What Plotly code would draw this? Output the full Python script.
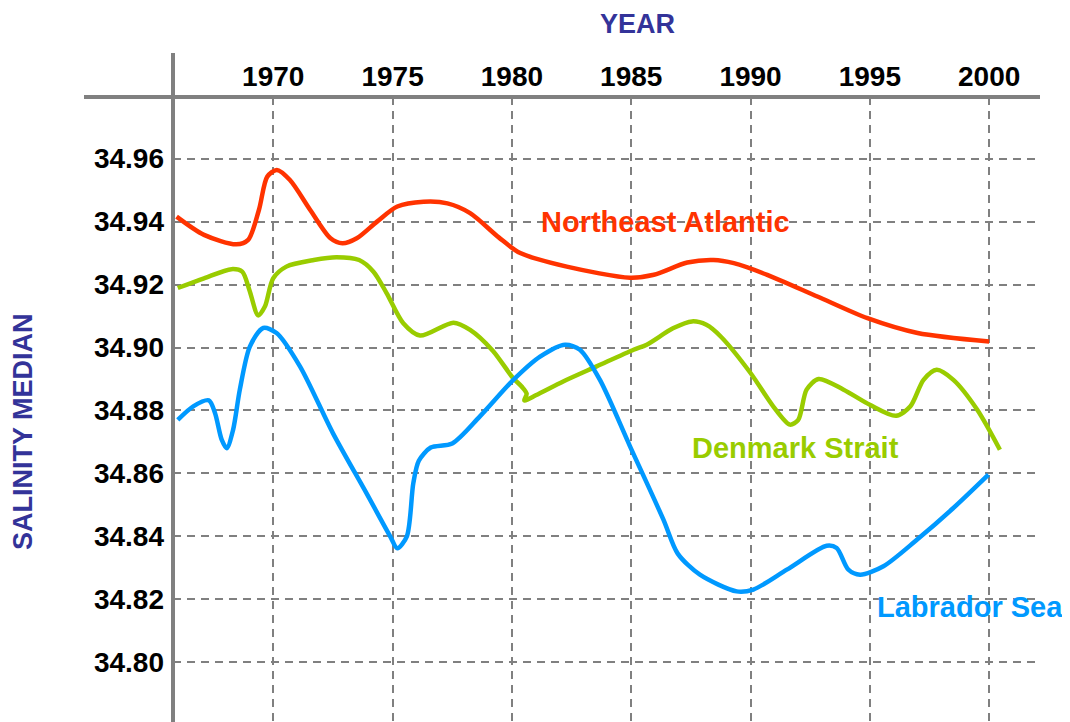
import plotly.graph_objects as go

# ---------------- data ----------------
tick_years = [1970, 1975, 1980, 1985, 1990, 1995, 2000]
tick_sal = [34.80, 34.82, 34.84, 34.86, 34.88, 34.90, 34.92, 34.94, 34.96]

ne_years = [1965.95, 1967.1, 1968.45, 1968.95, 1969.4, 1969.75, 1970.15, 1970.7, 1971.55,
            1972.4, 1972.9, 1973.5, 1974.35, 1975.2, 1976.3, 1977.3, 1978.25, 1979.45,
            1980.35, 1982.3, 1984.95, 1985.95, 1987.35, 1988.45, 1989.3, 1990.7, 1992.8,
            1994.9, 1997.0, 2000.0]
ne_sal = [34.9416, 34.9358, 34.9328, 34.9342, 34.9437, 34.9543, 34.9564, 34.9532, 34.9437,
          34.9347, 34.9331, 34.9347, 34.9400, 34.9448, 34.9463, 34.9458, 34.9427, 34.9350,
          34.9300, 34.9257, 34.9222, 34.9231, 34.9270, 34.9278, 34.9268, 34.9231, 34.9162,
          34.9093, 34.9046, 34.9019]

dk_years = [1966.0, 1967.1, 1968.25, 1968.7, 1969.0, 1969.37, 1969.65, 1970.0, 1970.55,
            1971.7, 1972.65, 1973.6, 1974.2, 1974.75, 1975.45, 1976.15, 1977.55, 1978.25,
            1979.2, 1980.05, 1980.41, 1980.62, 1980.52, 1981.0, 1982.15, 1983.55, 1985.1,
            1985.65, 1986.75, 1987.55, 1988.15, 1988.75, 1990.0, 1990.95, 1991.65, 1992.0,
            1992.35, 1992.85, 1993.9, 1995.0, 1996.1, 1996.7, 1997.25, 1997.8, 1998.5,
            1999.5, 2000.45]
dk_sal = [34.9189, 34.9220, 34.9249, 34.9241, 34.9183, 34.9102, 34.9130, 34.9220, 34.9257,
          34.9278, 34.9287, 34.9278, 34.9241, 34.9173, 34.9077, 34.9038, 34.9079, 34.9056,
          34.8990, 34.8903, 34.8876, 34.8853, 34.8832, 34.8848, 34.8892, 34.8940, 34.8993,
          34.9009, 34.9061, 34.9083, 34.9072, 34.9035, 34.8919, 34.8813, 34.8755, 34.8770,
          34.8866, 34.8900, 34.8866, 34.8818, 34.8783, 34.8813, 34.8897, 34.8929, 34.8897,
          34.8802, 34.8675]

lab_years = [1966.0, 1966.65, 1967.3, 1967.56, 1967.84, 1968.05, 1968.32, 1968.6, 1969.02,
             1969.58, 1970.14, 1971.12, 1972.5, 1973.9, 1974.9, 1975.2, 1975.6, 1975.87,
             1976.1, 1976.6, 1977.5, 1978.66, 1980.06, 1981.18, 1982.23, 1982.85, 1983.69,
             1984.95, 1986.35, 1986.95, 1987.88, 1989.42, 1990.12, 1991.52, 1993.19, 1993.61,
             1994.1, 1994.59, 1995.57, 1996.97, 1998.5, 1999.97]
lab_sal = [34.8770, 34.8813, 34.8832, 34.8792, 34.8707, 34.8680, 34.8739, 34.8866, 34.9003,
           34.9062, 34.9046, 34.8940, 34.8728, 34.8538, 34.8400, 34.8362, 34.8400, 34.8569,
           34.8640, 34.8682, 34.8695, 34.8781, 34.8897, 34.8971, 34.9009, 34.8993, 34.8897,
           34.8686, 34.8453, 34.8345, 34.8278, 34.8225, 34.8231, 34.8294, 34.8370, 34.8363,
           34.8294, 34.8278, 34.8305, 34.8389, 34.8490, 34.8596]

series_names = ["Northeast Atlantic", "Denmark Strait", "Labrador Sea"]
label_years = [1986.43, 1991.9, 1999.2]
label_sal = [34.9399, 34.8682, 34.8177]

# ---------------- styles ----------------
RED, GREEN, BLUE = "#FF3300", "#99CC00", "#0099FF"
GRAY = "#808080"
TITLE_COL = "#333399"
FONT = "Liberation Sans, Arial, sans-serif"

fig = go.Figure()
for xs, ys, col, name in [(ne_years, ne_sal, RED, series_names[0]),
                          (dk_years, dk_sal, GREEN, series_names[1]),
                          (lab_years, lab_sal, BLUE, series_names[2])]:
    fig.add_trace(go.Scatter(x=xs, y=ys, mode="lines", name=name,
                             line=dict(color=col, width=4.5, shape="spline", smoothing=0.8),
                             showlegend=False))

for name, lx, ly, col in zip(series_names, label_years, label_sal, [RED, GREEN, BLUE]):
    fig.add_annotation(x=lx, y=ly, text=name, showarrow=False, xanchor="center", yanchor="middle",
                       font=dict(family=FONT, size=29, color=col, weight="bold"))

# page has an 8px body margin; figure sized to fill the remaining viewport
OFF = 8
W, H = 1070 - OFF, 722 - OFF
L, T, R, B = 173 - OFF, 97 - OFF, 30, 0
pw, ph = W - L - R, H - T - B
PL, PB = 173, 722  # page coords of plot-area left / bottom


def px(xp):
    return (xp - PL) / pw


def py(yp):
    return (PB - yp) / ph


fig.add_annotation(xref="paper", yref="paper", x=px(637), y=py(OFF),
                   text="YEAR", showarrow=False, xanchor="center", yanchor="top",
                   borderpad=0,
                   font=dict(family=FONT, size=27, color=TITLE_COL, weight="bold"))
fig.add_annotation(xref="paper", yref="paper", x=px(23), y=py(432),
                   text="SALINITY MEDIAN", textangle=-90, showarrow=False,
                   xanchor="center", yanchor="middle",
                   font=dict(family=FONT, size=27, color=TITLE_COL, weight="bold"))

# axis lines (cross beyond the plot corner)
fig.add_shape(type="line", xref="paper", yref="paper", x0=px(84), x1=1.0, y0=1, y1=1,
              line=dict(color=GRAY, width=4), layer="above")
fig.add_shape(type="line", xref="paper", yref="paper", x0=0, x1=0, y0=-0.01, y1=py(53),
              line=dict(color=GRAY, width=4), layer="above")

fig.update_xaxes(range=[1965.8, 2002.13], side="top", tickvals=tick_years,
                 ticktext=[str(v) for v in tick_years], ticks="", ticklabelstandoff=4,
                 tickfont=dict(family=FONT, size=28, color="black", weight="bold"),
                 showgrid=True, gridcolor=GRAY, gridwidth=2, griddash="8px,6px",
                 zeroline=False, showline=False)
fig.update_yaxes(range=[34.781, 34.9796], tickvals=tick_sal,
                 ticktext=[f"{v:.2f}" for v in tick_sal], ticks="", ticklabelstandoff=8,
                 tickfont=dict(family=FONT, size=28, color="black", weight="bold"),
                 showgrid=True, gridcolor=GRAY, gridwidth=2, griddash="8px,6px",
                 zeroline=False, showline=False)

fig.update_layout(width=W, height=H, margin=dict(l=L, t=T, r=R, b=B),
                  plot_bgcolor="white", paper_bgcolor="white")

fig.write_html("out.html")
